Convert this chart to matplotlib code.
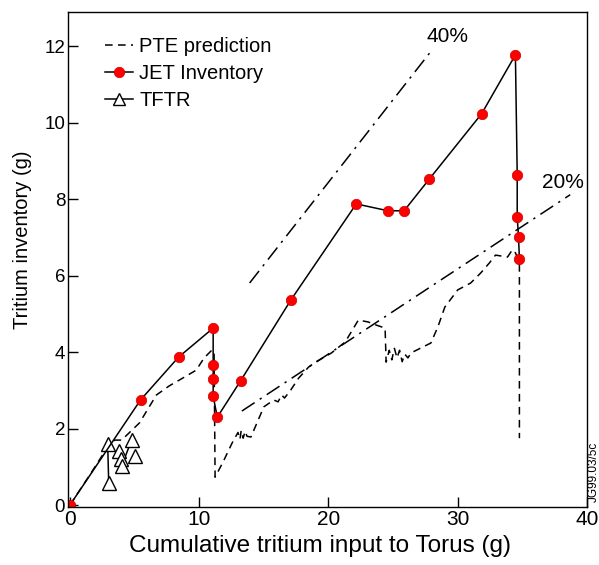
import numpy as np
import matplotlib.pyplot as plt

plt.rcParams['font.family'] = ['Liberation Sans', 'DejaVu Sans']

# JET inventory (red circles, solid line)
jet_x = [0, 5.46, 8.4, 11.08, 11.08, 11.08, 11.08, 11.4, 13.2, 17.1, 22.15,
         24.6, 25.85, 27.8, 31.85, 34.46, 34.6, 34.6, 34.7, 34.77]
jet_y = [0, 2.75, 3.87, 4.63, 3.66, 3.30, 2.85, 2.30, 3.25, 5.37, 7.88,
         7.70, 7.70, 8.53, 10.24, 11.78, 8.64, 7.54, 7.02, 6.44]

# PTE prediction (dashed)
pte_x = [0, 1.54, 2.92, 3.46, 4.0, 5.38, 6.69, 7.69, 8.46, 9.77, 10.38, 11.0,
         11.15, 11.23, 11.85, 12.54, 13.0, 13.15, 13.25, 13.4, 13.55, 13.7,
         14.0, 15.0, 15.77, 16.1, 16.38, 16.6, 17.08, 17.69, 18.46, 19.0,
         20.23, 21.3, 22.31, 23.08, 23.69, 24.38, 24.46, 24.7, 24.9, 25.1,
         25.3, 25.5, 25.7, 25.9, 26.15, 26.38, 27.92, 28.46, 29.0, 30.0,
         31.0, 31.77, 32.46, 32.92, 33.85, 34.23, 34.46, 34.77, 34.77]
pte_y = [0, 0.79, 1.52, 1.70, 1.70, 2.15, 2.88, 3.12, 3.27, 3.53, 3.85, 4.06,
         4.00, 0.73, 1.13, 1.62, 1.90, 1.72, 1.95, 1.75, 1.93, 1.80,
         1.78, 2.57, 2.75, 2.70, 2.88, 2.80, 3.01, 3.32, 3.61, 3.74,
         3.98, 4.27, 4.84, 4.79, 4.71, 4.63, 3.74, 4.05, 3.80, 4.10,
         3.85, 4.05, 3.75, 3.95, 3.85, 3.98, 4.24, 4.66, 5.18, 5.63,
         5.81, 6.07, 6.34, 6.54, 6.49, 6.68, 6.60, 6.36, 1.75]

# TFTR (open triangles)
tftr_x = [2.92, 3.0, 3.77, 3.92, 4.0, 4.77, 5.0]
tftr_y = [1.60, 0.58, 1.41, 1.20, 1.02, 1.70, 1.28]
tftr_seg_x = [2.92, 3.0, np.nan, 3.77, 3.92, 4.0, np.nan, 4.0, 4.77]
tftr_seg_y = [1.60, 0.58, np.nan, 1.41, 1.20, 1.02, np.nan, 1.02, 1.70]

# fraction lines
line40_x = [13.9, 27.9]
line40_y = [5.81, 11.86]
line20_x = [13.3, 38.7]
line20_y = [2.46, 8.12]

fig = plt.figure(figsize=(5.99, 5.65), dpi=100)
ax = fig.add_axes([0.1135, 0.1027, 0.8665, 0.876])

ax.plot(line40_x, line40_y, color='black', lw=1.1, dashes=[10, 4, 1.5, 4])
ax.plot(line20_x, line20_y, color='black', lw=1.1, dashes=[10, 4, 1.5, 4])

pte, = ax.plot(pte_x, pte_y, color='black', lw=1.1, dashes=[5, 3.5],
               label='PTE prediction')
ax.plot(tftr_seg_x, tftr_seg_y, color='black', lw=1.1)
tftr, = ax.plot(tftr_x, tftr_y, ls='none', marker='^', markersize=10,
                markerfacecolor='white', markeredgecolor='black', mew=1.0)
jet, = ax.plot(jet_x, jet_y, color='black', lw=1.1, marker='o',
               markersize=7.5, markerfacecolor='red',
               markeredgecolor='#cc0000', mew=0.5, label='JET Inventory')

# legend proxies
tftr_leg, = ax.plot([], [], color='black', lw=1.1, marker='^', markersize=8,
                    markerfacecolor='white', markeredgecolor='black')
ax.legend([pte, jet, tftr_leg], ['PTE prediction', 'JET Inventory', 'TFTR'],
          loc='upper left', bbox_to_anchor=(0.056, 0.966), frameon=False,
          fontsize=14.5, handlelength=1.4, handletextpad=0.3,
          labelspacing=0.4, borderaxespad=0)

ax.text(29.2, 12.25, '40%', fontsize=15, ha='center', va='center')
ax.text(38.1, 8.43, '20%', fontsize=15, ha='center', va='center')

ax.set_xlim(-0.15, 40)
ax.set_ylim(-0.05, 12.9)
ax.set_xticks([0, 10, 20, 30, 40])
ax.set_yticks([0, 2, 4, 6, 8, 10, 12])
ax.tick_params(direction='in', length=7.5, width=1.0, pad=2)
ax.tick_params(axis='x', labelsize=15)
ax.tick_params(axis='y', labelsize=13.5)
for s in ax.spines.values():
    s.set_linewidth(1.0)

ax.set_xlabel('Cumulative tritium input to Torus (g)', fontsize=17.5)
ax.xaxis.set_label_coords(0.486, -0.056)
ax.set_ylabel('Tritium inventory (g)', fontsize=14.5)
ax.yaxis.set_label_coords(-0.069, 0.539)

fig.text(0.992, 0.165, 'JG99.03/5c', rotation=90, fontsize=8.5,
         ha='center', va='center')

fig.savefig('out.png', dpi=100)
